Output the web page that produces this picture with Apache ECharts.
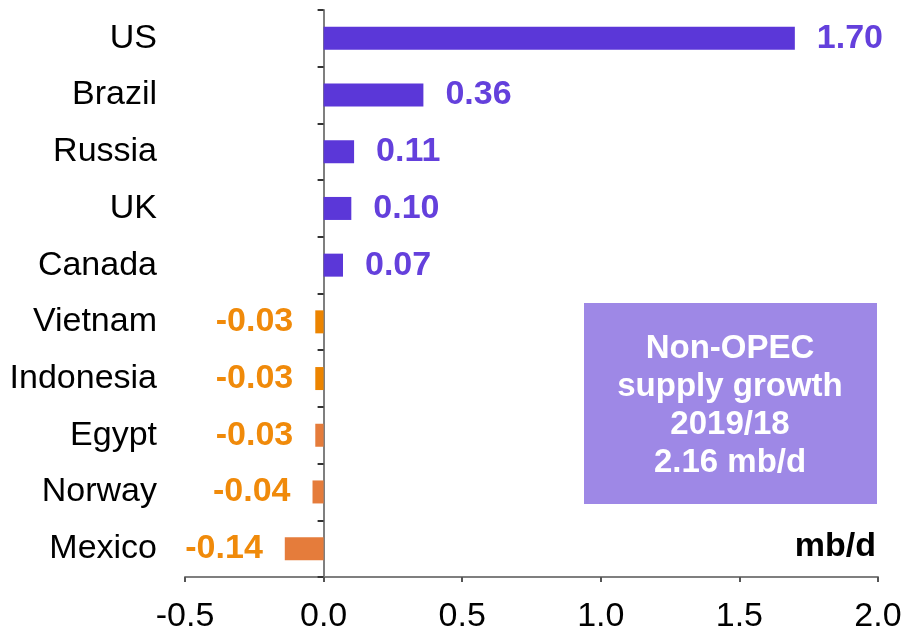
<!DOCTYPE html>
<html>
<head>
<meta charset="utf-8">
<script src="https://cdn.jsdelivr.net/npm/echarts@6/dist/echarts.min.js"></script>
<style>
html,body{margin:0;padding:0;background:#fff;}
#chart{width:914px;height:634px;}
</style>
</head>
<body>
<div id="chart"></div>
<script>
const categories = ['US','Brazil','Russia','UK','Canada','Vietnam','Indonesia','Egypt','Norway','Mexico'];
const values = [1.70, 0.36, 0.11, 0.10, 0.07, -0.03, -0.03, -0.03, -0.04, -0.14];
const barColors = ['#5b37d8','#5b37d8','#5b37d8','#5b37d8','#5b37d8','#ec8400','#ec8400','#e57c3b','#e57c3b','#e57c3b'];
const xTicks = [-0.5, 0.0, 0.5, 1.0, 1.5, 2.0];
const boxLines = ['Non-OPEC','supply growth','2019/18','2.16 mb/d'];
const unitLabel = 'mb/d';

const FONT = '"Liberation Sans", Arial, sans-serif';
const chart = echarts.init(document.getElementById('chart'), null, {renderer:'canvas'});

const data = values.map((v, i) => ({
  value: v,
  itemStyle: {color: barColors[i]},
  label: {
    position: v >= 0 ? 'right' : 'left',
    color: v >= 0 ? '#6440dc' : '#f08a0a'
  }
}));

chart.setOption({
  animation: false,
  backgroundColor: '#fff',
  grid: {left: 185, right: 36, top: 10, bottom: 57, containLabel: false, outerBoundsMode: 'none'},
  xAxis: {
    type: 'value',
    min: xTicks[0],
    max: xTicks[xTicks.length - 1],
    interval: 0.5,
    splitLine: {show: false},
    axisLine: {show: true, onZero: false, lineStyle: {color: '#7f7f7f', width: 2}},
    axisTick: {show: true, length: 5, lineStyle: {color: '#555', width: 2}},
    axisLabel: {
      margin: 23,
      fontSize: 34,
      fontFamily: FONT,
      color: '#000',
      formatter: v => v.toFixed(1)
    }
  },
  yAxis: {
    type: 'category',
    data: categories,
    inverse: true,
    axisLine: {show: true, onZero: true, lineStyle: {color: '#7f7f7f', width: 2}},
    axisTick: {show: true, length: 6, lineStyle: {color: '#333', width: 2}},
    axisLabel: {
      margin: 28,
      fontSize: 34,
      fontFamily: FONT,
      color: '#000'
    }
  },
  series: [{
    type: 'bar',
    data: data,
    barWidth: 23,
    label: {
      show: true,
      distance: 22,
      fontSize: 34,
      fontWeight: 'bold',
      fontFamily: FONT,
      formatter: p => p.value.toFixed(2)
    }
  }],
  graphic: [
    {
      type: 'rect',
      left: 584, top: 303,
      shape: {width: 293, height: 201},
      style: {fill: '#9e88e6'}
    },
    {
      type: 'text',
      x: 730, y: 406,
      style: {
        text: boxLines.join('\n'),
        fill: '#fff',
        font: 'bold 33px ' + FONT,
        lineHeight: 38,
        align: 'center',
        verticalAlign: 'middle'
      }
    },
    {
      type: 'text',
      x: 876, y: 547,
      style: {
        text: unitLabel,
        fill: '#000',
        font: 'bold 34px ' + FONT,
        align: 'right',
        verticalAlign: 'middle'
      }
    }
  ]
});
</script>
</body>
</html>
